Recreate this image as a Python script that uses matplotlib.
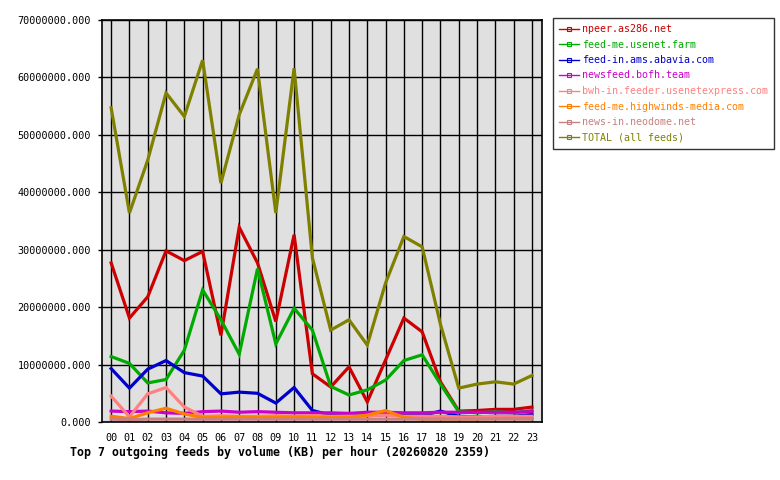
import matplotlib
matplotlib.use("Agg")
import matplotlib.pyplot as plt
from matplotlib.lines import Line2D

hours = ["%02d" % h for h in range(24)]

# values in MB-ish units (millions of KB)
npeer = [27.7, 18.1, 21.8, 29.8, 28.1, 29.7, 15.1, 33.9, 27.7, 17.5, 32.6, 8.4,
         6.1, 9.6, 3.5, 10.8, 18.1, 15.7, 7.0, 1.9, 2.0, 2.2, 2.2, 2.6]
usenet_farm = [11.4, 10.2, 6.8, 7.4, 12.5, 23.0, 17.8, 11.8, 26.7, 13.6, 19.8, 16.0,
               6.2, 4.7, 5.6, 7.3, 10.7, 11.7, 6.6, 1.8, 1.6, 1.8, 1.6, 2.0]
abavia = [9.3, 5.9, 9.2, 10.7, 8.6, 8.0, 4.9, 5.2, 5.0, 3.3, 6.0, 2.0,
          1.2, 1.2, 1.1, 1.3, 1.2, 1.1, 1.9, 1.0, 0.9, 1.0, 1.0, 1.3]
bofh = [1.9, 1.8, 1.9, 1.6, 1.5, 1.8, 1.9, 1.7, 1.8, 1.7, 1.6, 1.6,
        1.6, 1.5, 1.7, 1.7, 1.6, 1.6, 1.7, 1.7, 1.7, 1.7, 1.7, 1.8]
usenetexpress = [4.5, 0.9, 4.9, 6.0, 2.6, 1.0, 1.1, 1.0, 1.0, 1.1, 1.0, 1.1,
                 1.0, 1.0, 1.1, 1.2, 1.0, 1.0, 1.0, 0.9, 0.9, 1.0, 1.0, 1.0]
highwinds = [1.0, 0.6, 1.6, 2.4, 1.4, 0.8, 0.8, 0.9, 0.8, 0.8, 0.9, 0.8,
             0.8, 0.8, 1.2, 2.0, 0.8, 0.5, 0.5, 0.5, 0.5, 0.6, 0.6, 0.6]
neodome = [0.5, 0.4, 0.5, 0.5, 0.5, 0.5, 0.5, 0.5, 0.5, 0.5, 0.5, 0.5,
           0.5, 0.5, 0.5, 0.5, 0.5, 0.5, 0.5, 0.5, 0.5, 0.5, 0.5, 0.5]
total = [54.7, 36.4, 45.6, 57.3, 53.2, 63.0, 41.6, 53.5, 61.5, 36.4, 61.6, 28.6,
         16.0, 17.8, 13.4, 24.2, 32.3, 30.5, 17.0, 5.9, 6.6, 7.0, 6.6, 8.1]

series = [
    ("npeer.as286.net", npeer, "#cc0000"),
    ("feed-me.usenet.farm", usenet_farm, "#00aa00"),
    ("feed-in.ams.abavia.com", abavia, "#0000cc"),
    ("newsfeed.bofh.team", bofh, "#cc00cc"),
    ("bwh-in.feeder.usenetexpress.com", usenetexpress, "#ff8080"),
    ("feed-me.highwinds-media.com", highwinds, "#ff8000"),
    ("news-in.neodome.net", neodome, "#c88080"),
    ("TOTAL (all feeds)", total, "#808000"),
]

plt.rcParams['font.family'] = ['DejaVu Sans Mono']

fig = plt.figure(figsize=(7.8, 4.8), dpi=100)
ax = fig.add_axes([102 / 780, 58 / 480, 440 / 780, 402 / 480])
ax.set_facecolor("#e0e0e0")

x = list(range(24))
for name, vals, col in series:
    ax.plot(x, [v * 1e6 for v in vals], color=col, linewidth=2.3, solid_joinstyle='miter')

ax.set_xlim(-0.5, 23.55)
ax.set_ylim(0, 70e6)
ax.set_xticks(x)
ax.set_xticklabels(hours)
yt = [i * 10e6 for i in range(8)]
ax.set_yticks(yt)
ax.set_yticklabels(["%d.000" % v for v in yt])
ax.tick_params(axis='x', length=0, pad=8, labelsize=7.3)
ax.tick_params(axis='y', length=3, width=1, pad=5, labelsize=7.3)
ax.grid(True, color='black', linewidth=1)
ax.set_axisbelow(True)
for s in ax.spines.values():
    s.set_color('black')
    s.set_linewidth(1.2)

fig.text(70 / 780, 1 - 452 / 480,
         "Top 7 outgoing feeds by volume (KB) per hour (20260820 2359)",
         fontsize=8.4, weight='bold', va='center', ha='left')

handles = [Line2D([0], [0], color=col, linewidth=1, marker='s', markersize=2.5,
                  markerfacecolor='none', markeredgewidth=0.8)
           for name, vals, col in series]
leg = fig.legend(handles, [s[0] for s in series], loc='upper left',
                 bbox_to_anchor=(553 / 780, 1 - 18 / 480), fontsize=7.2,
                 frameon=True, fancybox=False, edgecolor='black',
                 handlelength=2.0, handletextpad=0.3, labelspacing=0.55,
                 borderpad=0.6, borderaxespad=0)
leg.get_frame().set_linewidth(1)
for txt, (name, vals, col) in zip(leg.get_texts(), series):
    txt.set_color(col)

fig.savefig("out.png", dpi=100)
